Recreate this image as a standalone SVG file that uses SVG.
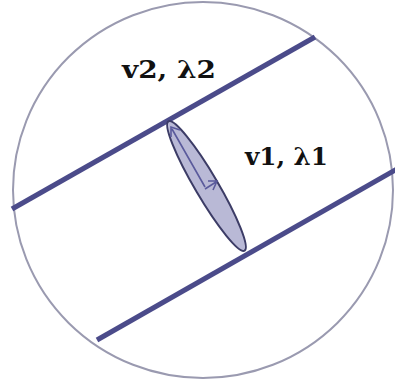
<svg xmlns="http://www.w3.org/2000/svg" width="395" height="385" viewBox="0 0 395 385">
<style>
.axis{stroke:#4b4b8a;stroke-width:5;stroke-linecap:butt;fill:none}
.lbl{font-family:"DejaVu Serif","Liberation Serif",serif;font-weight:bold;font-size:24px;fill:#111}
.vec{stroke:#5a5a9c;stroke-width:1.6;fill:none}
</style>
<rect width="395" height="385" fill="#fff"/>
<ellipse cx="203" cy="190" rx="190" ry="188" fill="none" stroke="#9a9ab0" stroke-width="2"/>
<g id="connectors">
<line class="axis" x1="12" y1="209" x2="315" y2="37"/>
<line class="axis" x1="97" y1="340" x2="397" y2="169"/>
</g>
<g id="ellipse">
<ellipse cx="206.5" cy="186" rx="75" ry="11.5" transform="rotate(59.5 206.5 186)" fill="#b9b9d6" stroke="#3c3c66" stroke-width="2"/>
<path class="vec" d="M205,187 L172,129 M171,137 L171,127 L180,130"/>
<path class="vec" d="M205,189 L216,182 M208,181 L217,181 L213,190"/>
</g>
<g id="label-v2"><text class="lbl" x="122" y="78" textLength="94" lengthAdjust="spacingAndGlyphs">v2, λ2</text></g>
<g id="label-v1"><text class="lbl" x="245" y="165" textLength="83" lengthAdjust="spacingAndGlyphs">v1, λ1</text></g>
</svg>
